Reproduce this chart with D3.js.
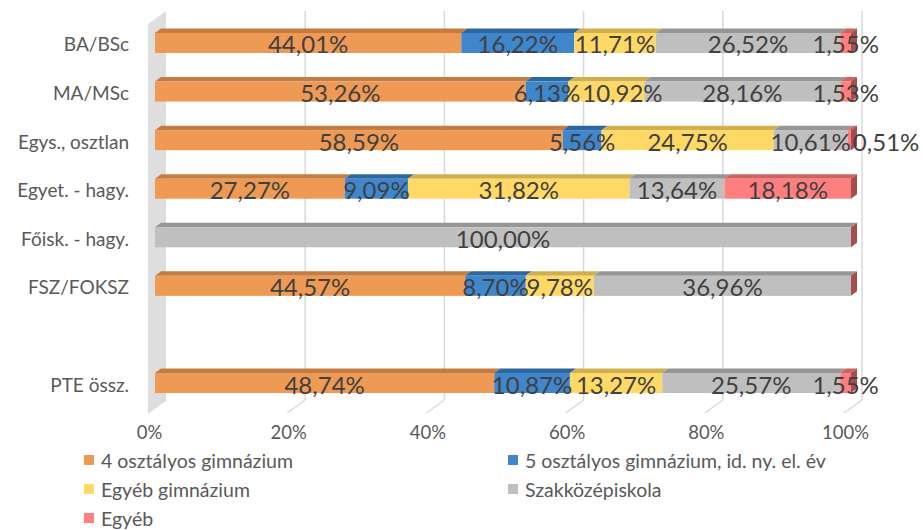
<!DOCTYPE html>
<html>
<head>
<meta charset="utf-8">
<script src="https://cdn.jsdelivr.net/npm/d3@7"></script>
<style>
  body { margin: 0; background: #fff; }
  svg { font-family: Lato, "Open Sans", sans-serif; }
</style>
</head>
<body>
<svg id="chart" width="923" height="530"></svg>
<script>
const categories = ["BA/BSc", "MA/MSc", "Egys., osztlan", "Egyet. - hagy.", "Főisk. - hagy.", "FSZ/FOKSZ", "", "PTE össz."];
const seriesNames = ["4 osztályos gimnázium", "5 osztályos gimnázium, id. ny. el. év", "Egyéb gimnázium", "Szakközépiskola", "Egyéb"];
const gim4 = [44.01, 53.26, 58.59, 27.27, 0, 44.57, null, 48.74];
const gim5 = [16.22, 6.13, 5.56, 9.09, 0, 8.70, null, 10.87];
const egyebGim = [11.71, 10.92, 24.75, 31.82, 0, 9.78, null, 13.27];
const szakkozep = [26.52, 28.16, 10.61, 13.64, 100.00, 36.96, null, 25.57];
const egyeb = [1.55, 1.53, 0.51, 18.18, 0, 0, null, 1.55];
const ticks = [0, 20, 40, 60, 80, 100];

const frontColors = ["#EE9A55", "#3F86CC", "#FFD966", "#BFBFBF", "#FF7F7F"];
const topColors = ["#C47C40", "#2E669E", "#D0AF4E", "#969696", "#CC6464"];
const sideColor = "#A54E4E";

const series = [gim4, gim5, egyebGim, szakkozep, egyeb];

const svg = d3.select("#chart");

const x = d3.scaleLinear().domain([0, 100]).range([155, 851]);
const y = d3.scalePoint().domain(d3.range(categories.length)).range([18.7, 407.3]).padding(0.5);
const barH = 20;
const dx = 6, dy = 4.5;          // bar depth
const backDx = 11, backTop = 11, backBottom = 400;
const floorDx = -6, floorBottom = 413;

// left wall
svg.append("polygon")
  .attr("points", [[x(0) - 7, 24], [x(0) + backDx, backTop], [x(0) + backDx, backBottom], [x(0) - 7, floorBottom]].join(" "))
  .attr("fill", "#dedede");

// back gridlines + floor lines
ticks.forEach(t => {
  if (t > 0) {
    svg.append("line")
      .attr("x1", x(t) + backDx).attr("y1", backTop)
      .attr("x2", x(t) + backDx).attr("y2", backBottom)
      .attr("stroke", "#d9d9d9").attr("stroke-width", 1.5);
  }
  svg.append("line")
    .attr("x1", x(t) + backDx).attr("y1", backBottom)
    .attr("x2", x(t) + floorDx - 1).attr("y2", floorBottom)
    .attr("stroke", "#d9d9d9").attr("stroke-width", 1.5);
});

// bars
categories.forEach((c, i) => {
  if (c === "") return;
  const cy = y(i);
  const y0 = cy - barH / 2, y1 = cy + barH / 2;
  let acc = 0;
  const g = svg.append("g");
  series.forEach((s, k) => {
    const v = s[i];
    const a = x(acc), b = x(acc + v);
    acc += v;
    if (v <= 0) return;
    g.append("polygon")
      .attr("points", [[a, y0], [b, y0], [b + dx, y0 - dy], [a + dx, y0 - dy]].join(" "))
      .attr("fill", topColors[k]);
    g.append("rect")
      .attr("x", a).attr("y", y0).attr("width", b - a).attr("height", barH)
      .attr("fill", frontColors[k]);
  });
  const e = x(100);
  g.append("polygon")
    .attr("points", [[e, y0], [e + dx, y0 - dy], [e + dx, y1 - dy], [e, y1]].join(" "))
    .attr("fill", sideColor);
});

// data labels (push a label right when it would sit mostly on the previous one)
categories.forEach((c, i) => {
  if (c === "") return;
  let acc = 0;
  let prevEnd = -Infinity;
  series.forEach((s, k) => {
    const v = s[i];
    const mid = acc + v / 2;
    acc += v;
    if (v <= 0) return;
    const t = svg.append("text")
      .attr("x", x(mid)).attr("y", y(i) + 1)
      .attr("text-anchor", "middle").attr("dominant-baseline", "central")
      .attr("font-size", 24).attr("fill", "#404040")
      .text(d3.format(".2f")(v).replace(".", ",") + "%");
    const w = t.node().getComputedTextLength();
    let left = x(mid) - w / 2;
    if (prevEnd - left > 12) {
      left = prevEnd + 2;
      t.attr("x", left + w / 2);
    }
    prevEnd = left + w;
  });
});

// category labels
categories.forEach((c, i) => {
  svg.append("text")
    .attr("x", 129).attr("y", y(i) + 1)
    .attr("text-anchor", "end").attr("dominant-baseline", "central")
    .attr("font-size", 19).attr("fill", "#595959")
    .text(c);
});

// x axis labels
const xAxisScale = d3.scaleLinear().domain([0, 100]).range([x(0) + floorDx, x(100) + floorDx]);
const axis = svg.append("g")
  .attr("transform", "translate(0,432)")
  .call(d3.axisBottom(xAxisScale).tickValues(ticks).tickSize(0).tickFormat(d => d + "%"));
axis.select(".domain").remove();
axis.selectAll("text")
  .attr("font-family", "Lato, sans-serif")
  .attr("font-size", 18.5).attr("fill", "#595959").attr("dy", 0).attr("y", 0)
  .attr("dominant-baseline", "central");

// legend
const legendPos = [[84, 460], [508, 460], [84, 489], [508, 489], [84, 518]];
seriesNames.forEach((n, k) => {
  const [lx, ly] = legendPos[k];
  svg.append("rect")
    .attr("x", lx).attr("y", ly - 5).attr("width", 10).attr("height", 10)
    .attr("fill", frontColors[k]);
  svg.append("text")
    .attr("x", lx + 17).attr("y", ly)
    .attr("dominant-baseline", "central")
    .attr("font-size", 19.5).attr("fill", "#595959")
    .text(n);
});
</script>
</body>
</html>
